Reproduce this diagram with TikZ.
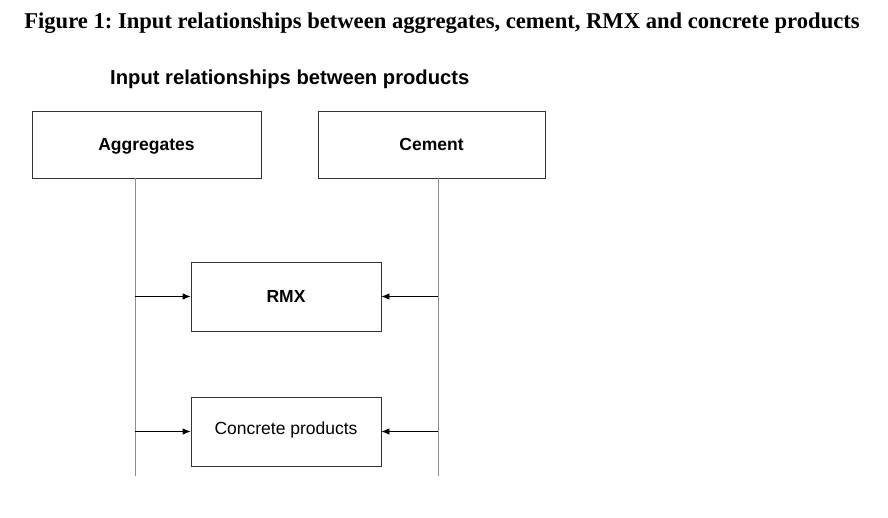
\documentclass[tikz,border=0pt]{standalone}
\usepackage{fontspec}
\setmainfont{Liberation Serif}
\setsansfont{Liberation Sans}
\usetikzlibrary{arrows.meta}
\frenchspacing
\begin{document}
\begin{tikzpicture}[x=1pt,y=-1pt,
  box/.style={draw=black!80,line width=0.8pt,inner sep=0pt,text height=12.6pt,text depth=0.6pt,font=\sffamily\bfseries\fontsize{17.5}{20}\selectfont},
  vline/.style={draw=black!45,line width=0.9pt},
  feed/.style={draw=black,line width=0.8pt,-{Latex[length=8pt,width=6.5pt]}}]
\useasboundingbox (0,0) rectangle (888,518);
\node[font=\bfseries\fontsize{22.6}{26}\selectfont,inner sep=0pt] (title) at (442,23) {Figure 1: Input relationships between aggregates, cement, RMX and concrete products};
\node[font=\sffamily\bfseries\fontsize{20.2}{24}\selectfont,anchor=west,inner sep=0pt] (sub) at (110,79) {Input relationships between products};
\node[box,minimum width=229pt,minimum height=67pt] (agg) at (146.5,144.5) {Aggregates};
\node[box,minimum width=227pt,minimum height=67pt] (cem) at (431.5,144.5) {Cement};
\node[box,minimum width=190pt,minimum height=69pt] (rmx) at (286,296.5) {RMX};
\node[box,minimum width=190pt,minimum height=69pt,text depth=7.6pt,font=\sffamily\fontsize{17.5}{20}\selectfont] (conc) at (286,431.5) {Concrete products};
\coordinate (aggEnd) at (135,476);
\coordinate (cemEnd) at (438,476);
\draw[vline] (agg.south -| aggEnd) -- (aggEnd);
\draw[vline] (cem.south -| cemEnd) -- (cemEnd);
\draw[feed] (aggEnd |- rmx.west) -- (rmx.west);
\draw[feed] (cemEnd |- rmx.east) -- (rmx.east);
\draw[feed] (aggEnd |- conc.west) -- (conc.west);
\draw[feed] (cemEnd |- conc.east) -- (conc.east);
\end{tikzpicture}
\end{document}
